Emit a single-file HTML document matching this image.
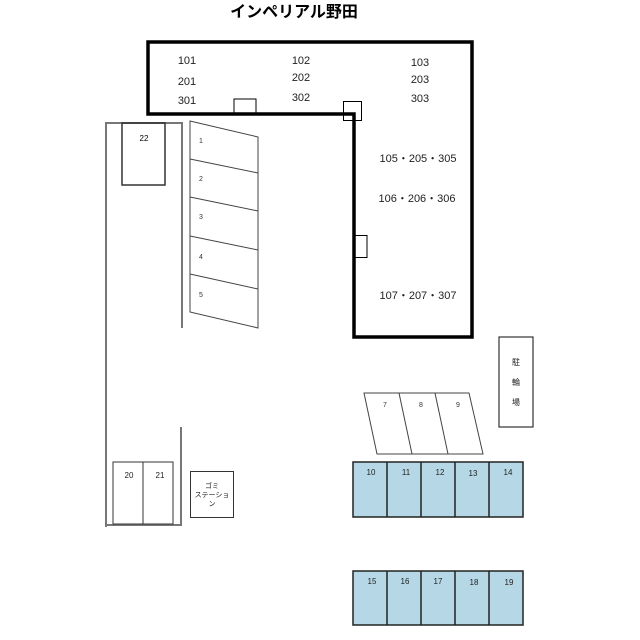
<!DOCTYPE html>
<html><head><meta charset="utf-8"><style>body{margin:0;background:#fff}svg{display:block}</style></head><body>
<svg width="640" height="640" viewBox="0 0 640 640" xmlns="http://www.w3.org/2000/svg" font-family="Liberation Sans, Noto Sans CJK JP, sans-serif">
<rect width="640" height="640" fill="#fff"/>
<text x="294" y="17" font-size="16" font-weight="bold" text-anchor="middle" font-family="Liberation Sans, Noto Sans CJK JP, sans-serif">インペリアル野田</text>
<g fill="#fff" stroke="#000" stroke-width="1">
<rect x="234" y="99" width="22" height="14"/>
<rect x="343.5" y="101.5" width="18" height="19"/>
<rect x="354" y="235.5" width="13" height="22"/>
</g>
<polygon points="148,42 472,42 472,337 354,337 354,114 148,114" fill="none" stroke="#000" stroke-width="3.5"/>
<g font-size="11" fill="#222" text-anchor="middle">
<text x="187" y="64">101</text><text x="187" y="85">201</text><text x="187" y="104">301</text>
<text x="301" y="64">102</text><text x="301" y="81">202</text><text x="301" y="101">302</text>
<text x="420" y="66">103</text><text x="420" y="83">203</text><text x="420" y="102">303</text>
<text x="418" y="162">105・205・305</text>
<text x="417" y="202">106・206・306</text>
<text x="418" y="299">107・207・307</text>
</g>
<g stroke="#777" stroke-width="2" fill="none">
<polyline points="106,527 106,123 182,123 182,328"/>
<polyline points="181,427 181,525 106,525"/>
</g>
<rect x="122" y="123" width="43" height="62" fill="none" stroke="#333" stroke-width="1.5"/>
<text x="144" y="141" font-size="8" text-anchor="middle">22</text>
<g stroke="#444" stroke-width="1" fill="none">
<polygon points="190,121 258,137 258,328 190,312"/>
<line x1="190" y1="159" x2="258" y2="173"/>
<line x1="190" y1="197" x2="258" y2="211"/>
<line x1="190" y1="236" x2="258" y2="250"/>
<line x1="190" y1="274" x2="258" y2="289"/>
</g>
<g font-size="7" fill="#333">
<text x="199" y="143">1</text><text x="199" y="181">2</text><text x="199" y="219">3</text><text x="199" y="259">4</text><text x="199" y="297">5</text>
</g>
<g stroke="#444" stroke-width="1" fill="#fff">
<polygon points="364,393 469,393 483,454 377,454"/>
<line x1="399" y1="393" x2="412" y2="454"/>
<line x1="435" y1="393" x2="448" y2="454"/>
</g>
<g font-size="7" fill="#333" text-anchor="middle"><text x="385" y="407">7</text><text x="421" y="407">8</text><text x="458" y="407">9</text></g>
<rect x="499" y="337" width="34" height="90" fill="#fff" stroke="#333" stroke-width="1.2"/>
<g font-size="8" text-anchor="middle" fill="#222"><text x="516" y="365">駐</text><text x="516" y="385">輪</text><text x="516" y="405">場</text></g>
<g stroke="#222" stroke-width="1.5" fill="#b6d8e6">
<rect x="353" y="462" width="170" height="55"/>
<line x1="387" y1="462" x2="387" y2="517"/><line x1="421" y1="462" x2="421" y2="517"/><line x1="455" y1="462" x2="455" y2="517"/><line x1="489" y1="462" x2="489" y2="517"/>
<rect x="353" y="571" width="170" height="54"/>
<line x1="387" y1="571" x2="387" y2="625"/><line x1="421" y1="571" x2="421" y2="625"/><line x1="455" y1="571" x2="455" y2="625"/><line x1="489" y1="571" x2="489" y2="625"/>
</g>
<g font-size="8" fill="#222" text-anchor="middle">
<text x="371" y="475">10</text><text x="406" y="475">11</text><text x="440" y="475">12</text><text x="473" y="476">13</text><text x="508" y="475">14</text>
<text x="372" y="584">15</text><text x="405" y="584">16</text><text x="438" y="584">17</text><text x="474" y="585">18</text><text x="509" y="585">19</text>
</g>
<g stroke="#333" stroke-width="1" fill="#fff">
<rect x="113" y="462" width="60" height="62"/>
<line x1="143" y1="462" x2="143" y2="524"/>
<rect x="190.5" y="471.5" width="43" height="46"/>
</g>
<g font-size="8" fill="#222" text-anchor="middle"><text x="129" y="478">20</text><text x="160" y="478">21</text></g>
<g font-size="7" fill="#222" text-anchor="middle"><text x="212" y="488">ゴミ</text><text x="212" y="497">ステーショ</text><text x="212" y="506">ン</text></g>
</svg>
</body></html>
